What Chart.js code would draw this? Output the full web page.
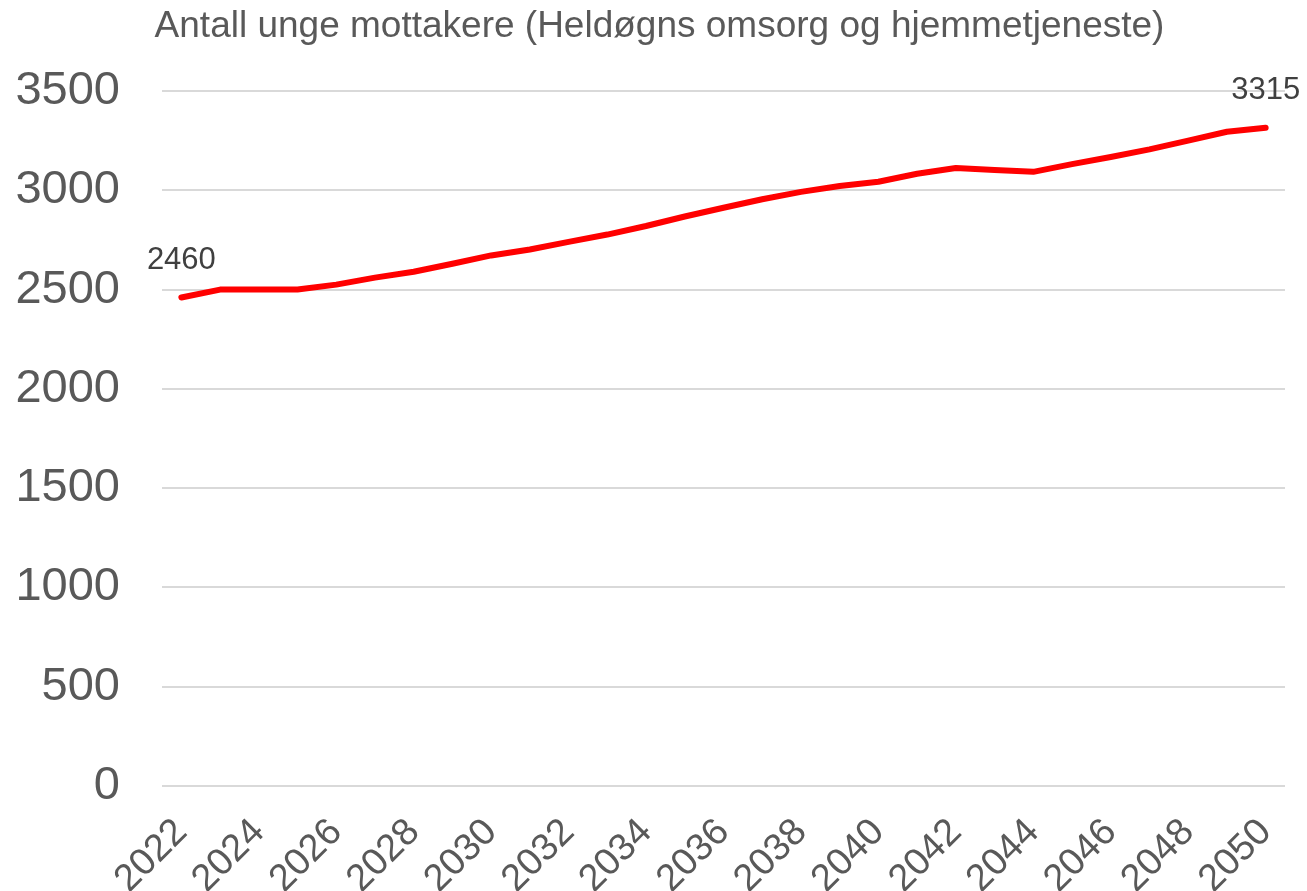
<!DOCTYPE html>
<html>
<head>
<meta charset="utf-8">
<script src="https://cdn.jsdelivr.net/npm/chart.js@4/dist/chart.umd.min.js"></script>
<style>
  html, body { margin: 0; padding: 0; background: #fff; }
  #wrap { width: 1307px; height: 891px; position: relative; }
</style>
</head>
<body>
<div id="wrap"><canvas id="c" width="1307" height="891"></canvas></div>
<script>
const chartTitle = "Antall unge mottakere (Heldøgns omsorg og hjemmetjeneste)";
const years = [
  "2022","2023","2024","2025","2026","2027","2028","2029","2030","2031",
  "2032","2033","2034","2035","2036","2037","2038","2039","2040","2041",
  "2042","2043","2044","2045","2046","2047","2048","2049","2050"
];
const recipients = [
  2460, 2500, 2500, 2500, 2525, 2560, 2590, 2630, 2672, 2702,
  2740, 2777, 2820, 2868, 2912, 2955, 2992, 3022, 3043, 3083,
  3112, 3102, 3093, 3132, 3168, 3206, 3250, 3295, 3315
];
const yMin = 0, yMax = 3500, yStep = 500;
const labelledIndices = [0, years.length - 1];

const FONT = "'Liberation Sans', Arial, sans-serif";
const TEXT = "#595959";

const endLabels = {
  id: "endLabels",
  afterDatasetsDraw(chart) {
    const ctx = chart.ctx;
    const meta = chart.getDatasetMeta(0);
    ctx.save();
    ctx.font = "31px " + FONT;
    ctx.fillStyle = "#404040";
    ctx.textAlign = "center";
    ctx.textBaseline = "bottom";
    labelledIndices.forEach(i => {
      const pt = meta.data[i];
      ctx.fillText(String(recipients[i]), pt.x, pt.y - 22);
    });
    ctx.restore();
  }
};

new Chart(document.getElementById("c"), {
  type: "line",
  data: {
    labels: years,
    datasets: [{
      data: recipients,
      borderColor: "#ff0000",
      borderWidth: 6,
      pointRadius: 0,
      tension: 0,
      borderCapStyle: "round",
      borderJoinStyle: "round",
      fill: false
    }]
  },
  options: {
    responsive: false,
    animation: false,
    layout: { padding: { left: 12, right: 0, top: 0, bottom: 0 } },
    plugins: {
      legend: { display: false },
      tooltip: { enabled: false },
      title: {
        display: true,
        text: chartTitle,
        color: TEXT,
        font: { family: FONT, size: 37, weight: "normal", lineHeight: 1.2 },
        padding: { top: 5, bottom: 41.6 }
      }
    },
    scales: {
      x: {
        offset: true,
        grid: { display: false, drawTicks: false },
        border: { display: false },
        ticks: {
          color: TEXT,
          font: { family: FONT, size: 38 },
          autoSkip: false,
          maxRotation: 45,
          minRotation: 45,
          padding: 24,
          callback: function(v, i) { return i % 2 === 0 ? years[i] : ""; }
        },
        afterFit(axis) {
          axis.height = 105;
          axis.paddingLeft = 0;
          axis.paddingRight = 22;
        }
      },
      y: {
        min: yMin,
        max: yMax,
        grid: { color: "#d9d9d9", lineWidth: 2, drawTicks: false },
        border: { display: false },
        ticks: {
          stepSize: yStep,
          color: TEXT,
          font: { family: FONT, size: 47 },
          padding: 42,
          callback: function(v) { return String(v); }
        },
        afterFit(axis) { axis.width = 150; }
      }
    }
  },
  plugins: [endLabels]
});
</script>
</body>
</html>
